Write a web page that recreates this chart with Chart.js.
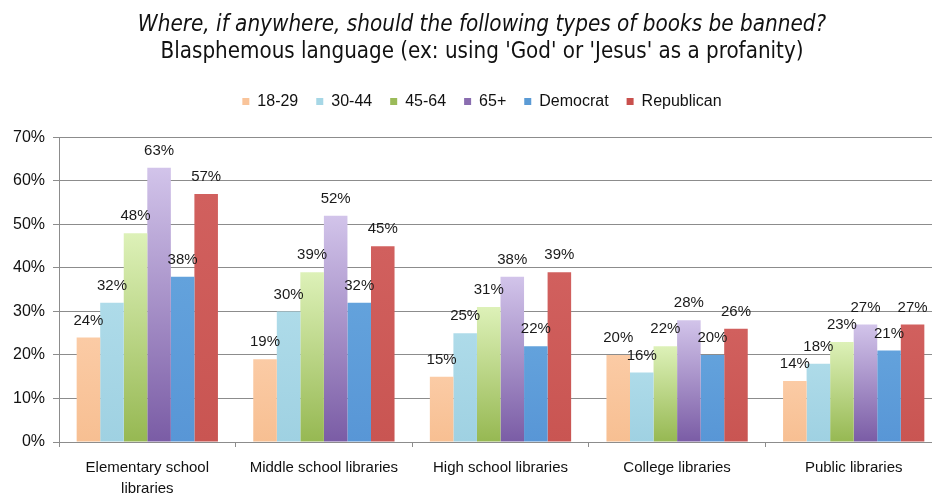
<!doctype html>
<html lang="en">
<head>
<meta charset="utf-8">
<title>Where should books be banned - blasphemous language</title>
<script src="https://cdn.jsdelivr.net/npm/chart.js"></script>
<style>
  html, body { margin: 0; padding: 0; background: #fff; overflow: hidden; }
</style>
</head>
<body>
<canvas id="banChart" width="964" height="493"></canvas>
<script>
// data
const categories = [["Elementary school", "libraries"], "Middle school libraries", "High school libraries", "College libraries", "Public libraries"];
const seriesNames = ["18-29", "30-44", "45-64", "65+", "Democrat", "Republican"];
const age18_29 = [24, 19, 15, 20, 14];
const age30_44 = [32, 30, 25, 16, 18];
const age45_64 = [48, 39, 31, 22, 23];
const age65plus = [63, 52, 38, 28, 27];
const democrat = [38, 32, 22, 20, 21];
const republican = [57, 45, 39, 26, 27];
const yTicks = [0, 10, 20, 30, 40, 50, 60, 70];

// bar fills: top colour, bottom colour (Excel style gradient)
const fills = [
  ["#fbcba5", "#f7bf92"],
  ["#aedbe9", "#9fd1e2"],
  ["#ddf1b8", "#96b852"],
  ["#d2c4ea", "#7a5ca5"],
  ["#63a2dc", "#5896d6"],
  ["#d1605e", "#c95552"]
];
const legendColors = ["#f9c49a", "#a6d7e6", "#9bbb59", "#8a6db0", "#5b9bd5", "#c9504d"];

const FONT = '"Liberation Sans", Arial, sans-serif';
const NARROW = '"Liberation Sans Narrow", "DejaVu Sans Condensed", "Liberation Sans", sans-serif';

function barFill(top, bottom) {
  return function(ctx) {
    const chart = ctx.chart;
    if (!chart.chartArea || ctx.type !== 'data' || !chart.scales.y) return bottom;
    const y = chart.scales.y;
    const g = chart.ctx.createLinearGradient(0, y.getPixelForValue(ctx.raw), 0, y.getPixelForValue(0));
    g.addColorStop(0, top);
    g.addColorStop(1, bottom);
    return g;
  };
}

const allSeries = [age18_29, age30_44, age45_64, age65plus, democrat, republican];
const datasets = allSeries.map((vals, i) => ({
  label: seriesNames[i],
  data: vals,
  backgroundColor: barFill(fills[i][0], fills[i][1]),
  borderWidth: 0,
  categoryPercentage: 0.8,
  barPercentage: 1.0
}));

// percentage labels above every bar
const valueLabels = {
  id: 'valueLabels',
  afterDatasetsDraw(chart) {
    const c = chart.ctx;
    c.save();
    c.font = '15px ' + FONT;
    c.fillStyle = '#1a1a1a';
    c.textAlign = 'center';
    c.textBaseline = 'middle';
    chart.data.datasets.forEach((ds, i) => {
      chart.getDatasetMeta(i).data.forEach((bar, j) => {
        c.fillText(ds.data[j] + '%', bar.x, bar.y - 17);
      });
    });
    c.restore();
  }
};

// extra room under the legend
const legendGap = {
  id: 'legendGap',
  beforeInit(chart) {
    const fit = chart.legend.fit;
    chart.legend.fit = function() {
      fit.call(this);
      this.height += 18;
    };
  }
};

new Chart(document.getElementById('banChart'), {
  type: 'bar',
  data: { labels: categories, datasets: datasets },
  plugins: [valueLabels, legendGap],
  options: {
    responsive: false,
    devicePixelRatio: 1,
    animation: false,
    layout: { padding: 0 },
    plugins: {
      title: {
        display: true,
        text: "Where, if anywhere, should the following types of books be banned?",
        color: '#111',
        font: { family: NARROW, size: 22.3, style: 'italic', weight: 'normal' },
        padding: { top: 12, bottom: 0 }
      },
      subtitle: {
        display: true,
        text: "Blasphemous language (ex: using 'God' or 'Jesus' as a profanity)",
        color: '#111',
        font: { family: NARROW, size: 22.2, weight: 'normal' },
        padding: { top: 0, bottom: 10 }
      },
      legend: {
        position: 'top',
        labels: {
          boxWidth: 7,
          boxHeight: 7,
          padding: 18,
          color: '#111',
          font: { family: FONT, size: 16 },
          generateLabels(chart) {
            const items = Chart.defaults.plugins.legend.labels.generateLabels(chart);
            items.forEach((it, i) => { it.fillStyle = legendColors[i]; it.strokeStyle = legendColors[i]; it.lineWidth = 0; });
            return items;
          }
        }
      },
      tooltip: { enabled: false }
    },
    scales: {
      x: {
        grid: { display: true, drawOnChartArea: false, drawTicks: true, tickLength: 5, color: '#8c8c8c', offset: true },
        border: { color: '#8c8c8c' },
        ticks: { color: '#111', font: { family: FONT, size: 15, lineHeight: 1.4 }, padding: 10, maxRotation: 0, autoSkip: false },
        afterFit(s) { s.height = 51; }
      },
      y: {
        min: 0,
        max: 70,
        afterBuildTicks(s) { s.ticks = yTicks.map(v => ({ value: v })); },
        ticks: { color: '#111', font: { family: FONT, size: 16 }, padding: 8, callback: v => v + '%' },
        grid: { color: '#8c8c8c', tickLength: 6 },
        border: { color: '#8c8c8c' },
        afterFit(s) { s.width = 59; }
      },
      // empty right-hand spacer so the plot runs past the crop edge while titles stay centred
      spacer: {
        type: 'linear',
        position: 'right',
        grid: { display: false },
        border: { display: false },
        ticks: { display: false },
        afterFit(s) { s.width = 22; }
      }
    }
  }
});
</script>
</body>
</html>
